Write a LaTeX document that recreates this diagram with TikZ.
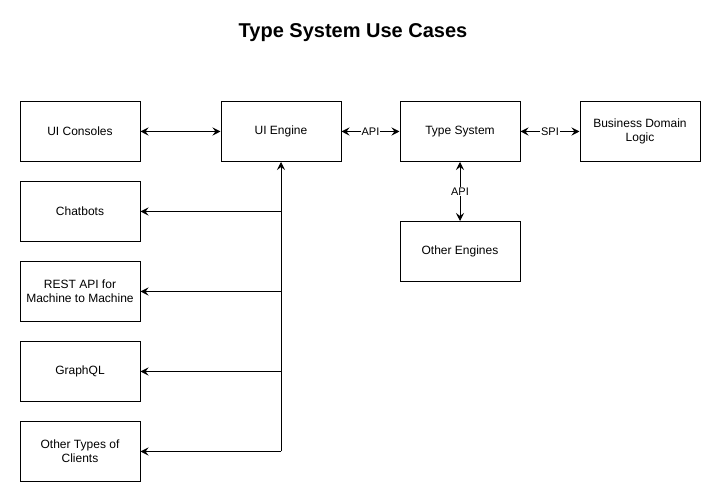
\documentclass[tikz,border=0pt]{standalone}
\usepackage{fontspec}
\setmainfont{Liberation Sans}
\usetikzlibrary{arrows.meta}
\begin{document}
\begin{tikzpicture}[x=1pt,y=-1pt,
  box/.style={draw,line width=1pt,minimum width=120pt,minimum height=60pt,inner sep=2pt,align=center,font=\fontsize{12}{14}\selectfont},
  con/.style={line width=1pt,arrows={-Stealth[length=8pt,width=8pt,inset=3pt]}},
  bicon/.style={line width=1pt,arrows={Stealth[length=8pt,width=8pt,inset=3pt]-Stealth[length=8pt,width=8pt,inset=3pt]}},
  lbl/.style={fill=white,inner sep=1pt,font=\fontsize{11}{13}\selectfont}]
\useasboundingbox (0,0) rectangle (721,502);
\node[font=\bfseries\fontsize{20}{24}\selectfont] (title) at (353,33) {Type System Use Cases};
\node[box] (uic) at (80,131.5) {UI Consoles};
\node[box] (uie) at (281,131.5) {UI Engine};
\node[box] (ts) at (460,131.5) {Type System};
\node[box] (bdl) at (640,131.5) {Business Domain\\Logic};
\node[box] (chat) at (80,211.5) {Chatbots};
\node[box] (rest) at (80,291.5) {REST API for\\Machine to Machine};
\node[box] (gql) at (80,371.5) {GraphQL};
\node[box] (oth) at (80,451.5) {Other Types of\\Clients};
\node[box] (oe) at (460,251.5) {Other Engines};
\coordinate (j4) at (uie.south |- oth.east);
\draw[bicon] (uic) -- (uie);
\draw[bicon] (uie) -- node[lbl]{API} (ts);
\draw[bicon] (ts) -- node[lbl]{SPI} (bdl);
\draw[bicon] (ts) -- node[lbl]{API} (oe);
\draw[con] (j4) -- (uie.south);
\draw[con] (uie.south |- chat.east) -- (chat.east);
\draw[con] (uie.south |- rest.east) -- (rest.east);
\draw[con] (uie.south |- gql.east) -- (gql.east);
\draw[con] (j4) -- (oth.east);
\end{tikzpicture}
\end{document}
